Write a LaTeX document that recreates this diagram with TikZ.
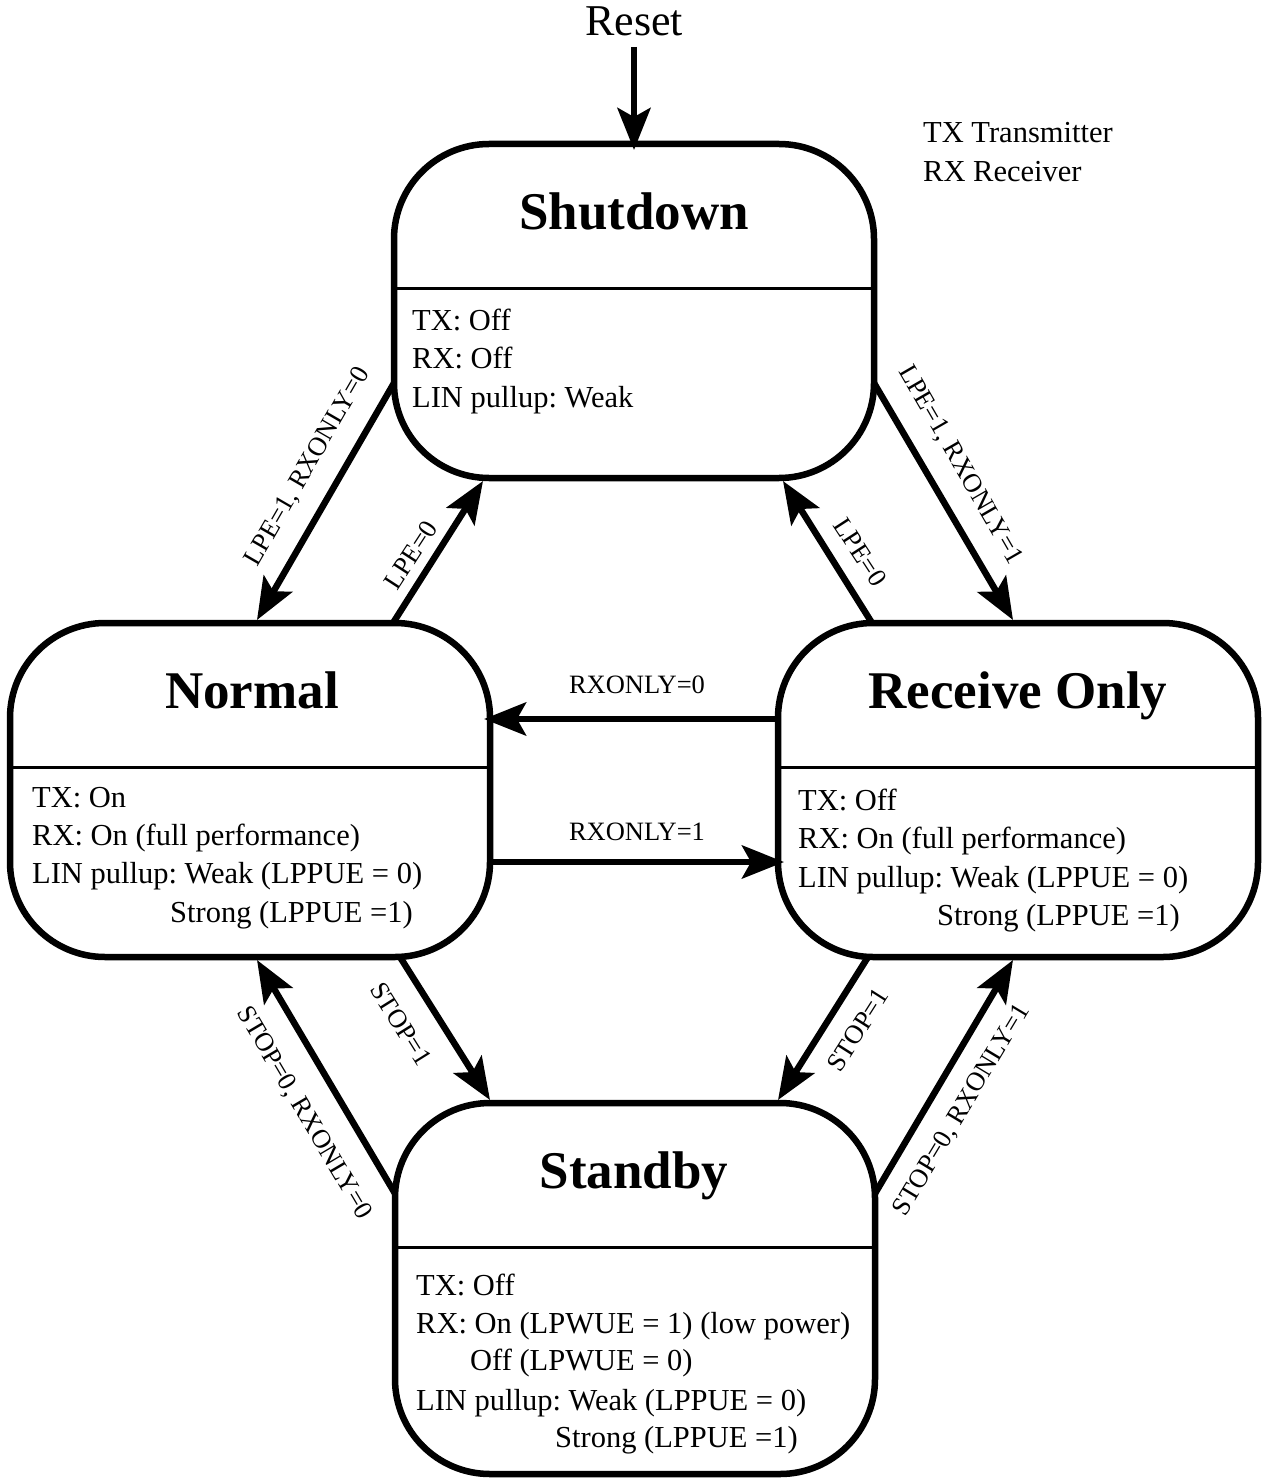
\documentclass[tikz,border=0pt]{standalone}
\usepackage{fontspec}
\setmainfont{Liberation Serif}
\usetikzlibrary{arrows.meta}
\frenchspacing
\begin{document}
\begin{tikzpicture}[x=1pt,y=1pt,
  state/.style={draw, line width=6.5pt, rounded corners=95pt, minimum width=480pt, outer sep=0pt, inner sep=0pt},
  divider/.style={line width=3pt},
  arr/.style={line width=6.5pt, -{Stealth[length=42pt,width=33pt,inset=9pt]}},
  title/.style={font=\fontsize{53}{60}\selectfont\bfseries, anchor=base, inner sep=0pt},
  body/.style={font=\fontsize{30.5}{38}\selectfont, anchor=base west, inner sep=0pt},
  lab/.style={font=\fontsize{26.5}{30}\selectfont, inner sep=0pt},
]
\useasboundingbox (0,0) rectangle (1265,-1479);

% states
\node[state, minimum height=334pt] (shut) at (634,-311) {};
\node[state, minimum height=334pt] (norm) at (250,-790) {};
\node[state, minimum height=334pt] (recv) at (1018,-790) {};
\node[state, minimum height=371pt] (stby) at (635,-1288.5) {};

% dividers
\draw[divider] ([yshift=-144pt]shut.north west) -- ([yshift=-144pt]shut.north east);
\draw[divider] ([yshift=-144pt]norm.north west) -- ([yshift=-144pt]norm.north east);
\draw[divider] ([yshift=-144pt]recv.north west) -- ([yshift=-144pt]recv.north east);
\draw[divider] ([yshift=-144pt]stby.north west) -- ([yshift=-144pt]stby.north east);

% titles
\node[title] (shutT) at (634,-230) {Shutdown};
\node[title] (normT) at (252,-708) {Normal};
\node[title] (recvT) at (1018,-708) {Receive Only};
\node[title] (stbyT) at (634,-1188) {Standby};

% bodies
\node[body] (s1) at (412,-330) {TX: Off};
\node[body] (s2) at (412,-368) {RX: Off};
\node[body] (s3) at (412,-407) {LIN pullup: Weak};

\node[body] (n1) at (32,-807) {TX: On};
\node[body] (n2) at (32,-845) {RX: On (full performance)};
\node[body] (n3) at (32,-883) {LIN pullup: Weak (LPPUE = 0)};
\node[body] (n4) at (170,-922) {Strong (LPPUE =1)};

\node[body] (r1) at (798,-810) {TX: Off};
\node[body] (r2) at (798,-848) {RX: On (full performance)};
\node[body] (r3) at (798,-887) {LIN pullup: Weak (LPPUE = 0)};
\node[body] (r4) at (937,-925) {Strong (LPPUE =1)};

\node[body] (b1) at (416,-1295) {TX: Off};
\node[body] (b2) at (416,-1333) {RX: On (LPWUE = 1) (low power)};
\node[body] (b3) at (470,-1370) {Off (LPWUE = 0)};
\node[body] (b4) at (416,-1410) {LIN pullup: Weak (LPPUE = 0)};
\node[body] (b5) at (555,-1447) {Strong (LPPUE =1)};

% legend
\node[body] (lg1) at (923,-143) {TX Transmitter};
\node[body] (lg2) at (923,-182) {RX Receiver};

% reset
\node[font=\fontsize{44}{50}\selectfont, anchor=base, inner sep=0pt] (reset) at (634,-36) {Reset};
\coordinate (rst) at (634,-47);
\draw[arr] (rst) -- ([yshift=-6pt]shut.north);

% transitions
\draw[arr] ([yshift=-72pt]shut.west) -- ([xshift=7pt,yshift=3pt]norm.north);
\draw[arr] ([xshift=143pt]norm.north) -- ([xshift=-151pt,yshift=-3pt]shut.south);
\draw[arr] ([yshift=-72pt]shut.east) -- ([xshift=-5pt,yshift=3pt]recv.north);
\draw[arr] ([xshift=-146pt]recv.north) -- ([xshift=149pt,yshift=-3pt]shut.south);
\draw[arr] ([yshift=71pt]recv.west) -- ([xshift=-6pt,yshift=71pt]norm.east);
\draw[arr] ([yshift=-72pt]norm.east) -- ([xshift=6pt,yshift=-72pt]recv.west);
\draw[arr] ([xshift=150pt]norm.south) -- ([xshift=-145pt,yshift=3pt]stby.north);
\draw[arr] ([yshift=95pt]stby.west) -- ([xshift=7pt,yshift=-3pt]norm.south);
\draw[arr] ([xshift=-150pt]recv.south) -- ([xshift=143pt,yshift=3pt]stby.north);
\draw[arr] ([yshift=95pt]stby.east) -- ([xshift=-5pt,yshift=-3pt]recv.south);

% labels
\node[lab, rotate=60] (l1) at (308,-467) {LPE=1, RXONLY=0};
\node[lab, rotate=57] (l2) at (411,-555) {LPE=0};
\node[lab, rotate=-60] (l3) at (960,-465) {LPE=1, RXONLY=1};
\node[lab, rotate=-57] (l4) at (860,-552) {LPE=0};
\node[lab, anchor=base] (l5) at (637,-693) {RXONLY=0};
\node[lab, anchor=base] (l6) at (637,-840) {RXONLY=1};
\node[lab, rotate=-58] (l7) at (401,-1024) {STOP=1};
\node[lab, rotate=-59.4] (l8) at (304,-1113) {STOP=0, RXONLY=0};
\node[lab, rotate=57.6] (l9) at (858,-1030) {STOP=1};
\node[lab, rotate=59] (l10) at (962,-1110) {STOP=0, RXONLY=1};
\end{tikzpicture}
\end{document}
